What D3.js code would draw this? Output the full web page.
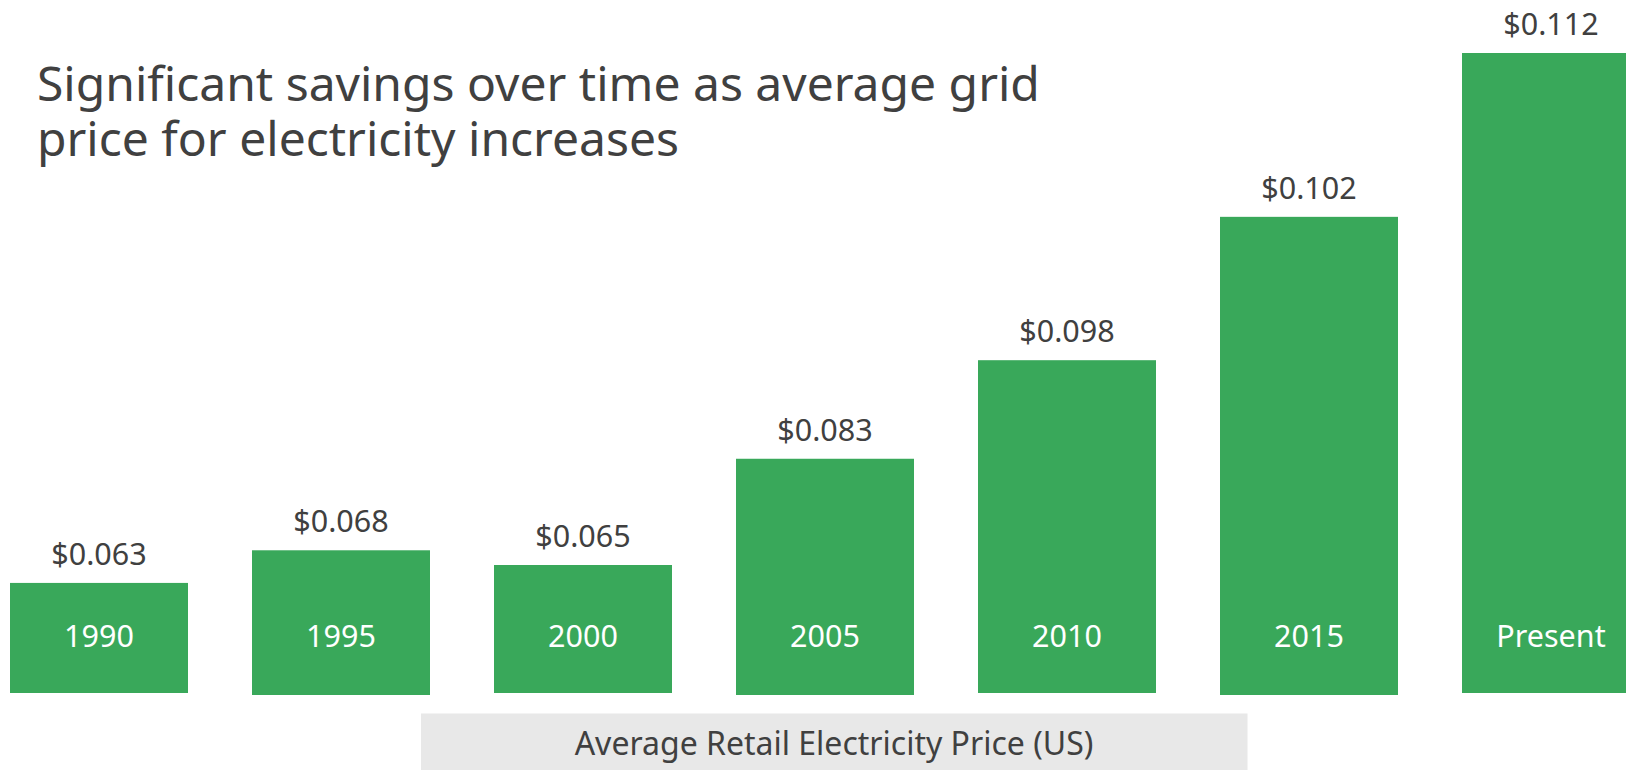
<!DOCTYPE html>
<html>
<head>
<meta charset="utf-8">
<script src="https://cdn.jsdelivr.net/npm/d3@7/dist/d3.min.js"></script>
<style>
  html, body { margin: 0; padding: 0; background: #ffffff; overflow: hidden; }
  svg { display: block; }
  text { font-family: "Noto Sans", "Open Sans", sans-serif; }
</style>
</head>
<body>
<svg id="chart" width="1626" height="770"></svg>
<script>
// ---- data ----
const categories = ["1990", "1995", "2000", "2005", "2010", "2015", "Present"];
const prices = [0.063, 0.068, 0.065, 0.083, 0.098, 0.102, 0.112];
// relative bar level as drawn in the infographic (Present = 100)
const barLevels = [17.2, 22.3, 20.0, 36.6, 52.0, 74.4, 100];
const titleLines = ["Significant savings over time as average grid", "price for electricity increases"];
const axisCaption = "Average Retail Electricity Price (US)";

const W = 1626, H = 770;
const green = "#39a85a";
const textColor = "#404040";

const svg = d3.select("#chart");

const x = d3.scaleBand()
  .domain(categories)
  .range([10, 1640])
  .paddingInner(0.2645)
  .paddingOuter(0);

const y = d3.scaleLinear()
  .domain([0, 100])
  .range([693, 53]);

const fmt = v => "$" + d3.format(".3f")(v);

const data = categories.map((c, i) => ({ cat: c, price: prices[i], level: barLevels[i], i }));

// title
const title = svg.append("text")
  .attr("x", 37)
  .attr("y", 101)
  .attr("fill", textColor)
  .attr("font-size", 48);
titleLines.forEach((line, i) => {
  title.append("tspan").attr("x", 37).attr("dy", i === 0 ? 0 : 55).text(line);
});

// bars
const g = svg.append("g");
g.selectAll("rect.bar")
  .data(data)
  .join("rect")
  .attr("class", "bar")
  .attr("x", d => x(d.cat))
  .attr("width", x.bandwidth())
  .attr("y", d => y(d.level))
  .attr("height", d => y(0) - y(d.level) + (d.i % 2 ? 2 : 0))
  .attr("fill", green);

// value labels
g.selectAll("text.val")
  .data(data)
  .join("text")
  .attr("class", "val")
  .attr("x", d => x(d.cat) + x.bandwidth() / 2)
  .attr("y", d => y(d.level) - 18)
  .attr("text-anchor", "middle")
  .attr("font-size", 30.5)
  .attr("fill", textColor)
  .text(d => fmt(d.price));

// category labels inside bars
g.selectAll("text.cat")
  .data(data)
  .join("text")
  .attr("class", "cat")
  .attr("x", d => x(d.cat) + x.bandwidth() / 2)
  .attr("y", 647)
  .attr("text-anchor", "middle")
  .attr("font-size", 30.5)
  .attr("fill", "#ffffff")
  .text(d => d.cat);

// caption box
svg.append("rect")
  .attr("x", 421)
  .attr("y", 713.5)
  .attr("width", 826.5)
  .attr("height", 60)
  .attr("fill", "#e8e8e8");
svg.append("text")
  .attr("x", 834)
  .attr("y", 755)
  .attr("text-anchor", "middle")
  .attr("font-size", 32)
  .attr("fill", textColor)
  .text(axisCaption);
</script>
</body>
</html>
